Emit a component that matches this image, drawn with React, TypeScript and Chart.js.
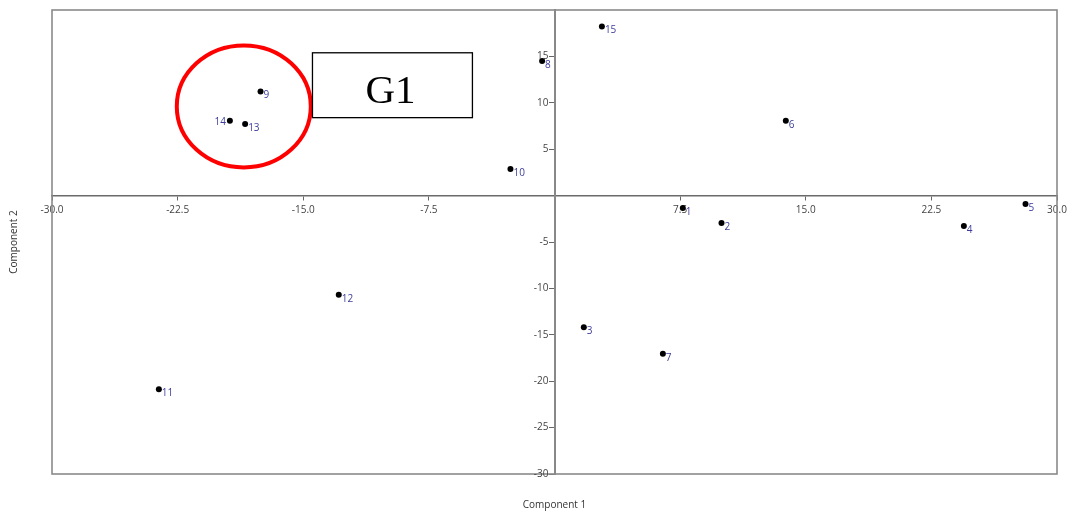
import React, { useEffect, useRef } from "react";
import { Chart, registerables } from "chart.js";

Chart.register(...registerables);

// ---- data ----
const sampleLabels = ["1", "2", "3", "4", "5", "6", "7", "8", "9", "10", "11", "12", "13", "14", "15"];
const component1 = [7.66, 9.97, 1.75, 24.44, 28.12, 13.81, 6.47, -0.74, -17.55, -2.63, -23.62, -12.88, -18.47, -19.38, 2.83];
const component2 = [-1.33, -2.95, -14.18, -3.27, -0.9, 8.07, -17.04, 14.5, 11.23, 2.87, -20.88, -10.69, 7.72, 8.07, 18.23];
const xTickValues = [-30, -22.5, -15, -7.5, 7.5, 15, 22.5, 30];
const yTickValues = [-30, -25, -20, -15, -10, -5, 5, 10, 15];
const labelsOnLeft = ["14"];
const xTitle = "Component 1";
const yTitle = "Component 2";
const groupName = "G1";

const FONT_FAMILY = "'Open Sans', 'Noto Sans', sans-serif";
const TICK_FONT = { family: FONT_FAMILY, size: 10 };

export default function App() {
  const canvasRef = useRef<HTMLCanvasElement | null>(null);

  useEffect(() => {
    if (!canvasRef.current) return;

    const overlay = {
      id: "overlay",
      afterDraw(chart: any) {
        const { ctx, chartArea } = chart;
        const xs = chart.scales.x;
        const ys = chart.scales.y;
        ctx.save();

        // outer frame
        ctx.strokeStyle = "#8a8a8a";
        ctx.lineWidth = 1.6;
        ctx.strokeRect(chartArea.left, chartArea.top, chartArea.right - chartArea.left, chartArea.bottom - chartArea.top);

        // y tick labels (left of the centred axis)
        const axisX = xs.getPixelForValue(0);
        ctx.font = `10px ${FONT_FAMILY}`;
        ctx.fillStyle = "#444444";
        ctx.textAlign = "right";
        ctx.textBaseline = "middle";
        yTickValues.forEach((v) => {
          ctx.fillText(String(v), axisX - 6, ys.getPixelForValue(v));
        });

        // point labels
        const meta = chart.getDatasetMeta(0);
        ctx.fillStyle = "#3c3c9c";
        meta.data.forEach((pt: any, i: number) => {
          const lab = sampleLabels[i];
          if (labelsOnLeft.includes(lab)) {
            ctx.textAlign = "right";
            ctx.fillText(lab, pt.x - 4, pt.y + 1);
          } else {
            ctx.textAlign = "left";
            ctx.fillText(lab, pt.x + 3, pt.y + 4);
          }
        });

        // red ellipse around group
        const cx = xs.getPixelForValue(-18.55);
        const cy = ys.getPixelForValue(9.61);
        const rx = Math.abs(xs.getPixelForValue(-18.55 + 4.0) - cx);
        const ry = Math.abs(ys.getPixelForValue(9.61 + 6.57) - cy);
        ctx.beginPath();
        ctx.ellipse(cx, cy, rx, ry, 0, 0, Math.PI * 2);
        ctx.strokeStyle = "#ff0000";
        ctx.lineWidth = 4;
        ctx.stroke();

        // G1 box
        const bx1 = xs.getPixelForValue(-14.45);
        const bx2 = xs.getPixelForValue(-4.9);
        const by1 = ys.getPixelForValue(15.39);
        const by2 = ys.getPixelForValue(8.4);
        ctx.fillStyle = "#ffffff";
        ctx.fillRect(bx1, by1, bx2 - bx1, by2 - by1);
        ctx.strokeStyle = "#000000";
        ctx.lineWidth = 1.3;
        ctx.strokeRect(bx1, by1, bx2 - bx1, by2 - by1);
        ctx.fillStyle = "#000000";
        ctx.font = "41px 'Liberation Serif', 'DejaVu Serif', serif";
        ctx.textAlign = "center";
        ctx.textBaseline = "alphabetic";
        ctx.fillText(groupName, (bx1 + bx2) / 2 - 2, by1 + 50);

        // axis titles
        ctx.font = `10px ${FONT_FAMILY}`;
        ctx.fillStyle = "#333333";
        ctx.textAlign = "center";
        ctx.textBaseline = "middle";
        ctx.fillText(xTitle, (chartArea.left + chartArea.right) / 2, 505);
        ctx.translate(14, (chartArea.top + chartArea.bottom) / 2);
        ctx.rotate(-Math.PI / 2);
        ctx.fillText(yTitle, 0, 0);

        ctx.restore();
      },
    };

    const chart = new Chart(canvasRef.current, {
      type: "scatter",
      data: {
        datasets: [
          {
            label: "samples",
            data: component1.map((x, i) => ({ x, y: component2[i] })),
            backgroundColor: "#000000",
            borderColor: "#000000",
            borderWidth: 0,
            pointRadius: 3,
            pointHoverRadius: 3,
          },
        ],
      },
      options: {
        responsive: false,
        animation: false,
        devicePixelRatio: 1,
        layout: { padding: { left: 52, top: 10, right: 15, bottom: 37 } },
        plugins: { legend: { display: false }, tooltip: { enabled: false }, title: { display: false } },
        scales: {
          x: {
            type: "linear",
            min: -30,
            max: 30,
            position: { y: 0 } as any,
            afterBuildTicks: (s: any) => {
              s.ticks = xTickValues.map((v) => ({ value: v }));
            },
            ticks: {
              autoSkip: false,
              maxRotation: 0,
              minRotation: 0,
              padding: 5,
              color: "#444444",
              font: TICK_FONT,
              callback: (v: any) => Number(v).toFixed(1),
            },
            grid: { drawOnChartArea: false, drawTicks: true, tickLength: 4, color: "#666666", tickWidth: 1 },
            border: { display: true, color: "#6a6a6a", width: 1.5 },
          },
          y: {
            type: "linear",
            min: -30,
            max: 20,
            position: { x: 0 } as any,
            afterBuildTicks: (s: any) => {
              s.ticks = yTickValues.map((v) => ({ value: v }));
            },
            ticks: { display: false },
            grid: { drawOnChartArea: false, drawTicks: true, tickLength: 5, color: "#666666", tickWidth: 1 },
            border: { display: true, color: "#888888", width: 2 },
          },
        },
      },
      plugins: [overlay],
    } as any);

    return () => chart.destroy();
  }, []);

  return (
    <div style={{ position: "absolute", left: 0, top: 0, width: 1072, height: 511, background: "#ffffff" }}>
      <canvas ref={canvasRef} width={1072} height={511} style={{ display: "block" }} />
    </div>
  );
}
